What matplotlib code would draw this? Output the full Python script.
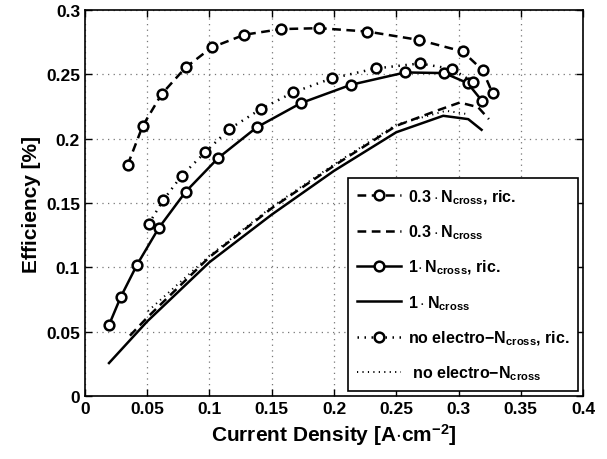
import matplotlib
matplotlib.use("Agg")
import matplotlib.pyplot as plt

plt.rcParams['font.family'] = 'Liberation Sans'
plt.rcParams['font.weight'] = 'bold'
plt.rcParams['mathtext.fontset'] = 'custom'
plt.rcParams['mathtext.rm'] = 'Liberation Sans:bold'
plt.rcParams['mathtext.it'] = 'Liberation Sans:bold'
plt.rcParams['mathtext.bf'] = 'Liberation Sans:bold'

# 0.3 * Ncross, with recirculation
x_03_ric = [0.0343, 0.0463, 0.0616, 0.0809, 0.1017, 0.128, 0.1574, 0.1882,
            0.2267, 0.268, 0.3033, 0.3193, 0.3274]
y_03_ric = [0.1797, 0.2098, 0.2347, 0.2554, 0.2709, 0.2808, 0.2852, 0.2859,
            0.2833, 0.2768, 0.2678, 0.2533, 0.2352]

# 0.3 * Ncross
x_03 = [0.0361, 0.05, 0.1, 0.15, 0.2, 0.25, 0.2823, 0.301, 0.3157, 0.3244]
y_03 = [0.0469, 0.061, 0.108, 0.146, 0.179, 0.21, 0.2217, 0.2281, 0.2245, 0.2152]

# 1 * Ncross, with recirculation
x_1_ric = [0.0193, 0.0287, 0.0418, 0.0592, 0.0809, 0.107, 0.1379, 0.1735,
           0.2136, 0.2572, 0.2886, 0.3073, 0.3188]
y_1_ric = [0.0552, 0.0769, 0.102, 0.1305, 0.1588, 0.185, 0.2088, 0.2277,
           0.2419, 0.2515, 0.251, 0.2432, 0.2295]

# 1 * Ncross
x_1 = [0.0193, 0.05, 0.1, 0.15, 0.2, 0.25, 0.2877, 0.3078, 0.3185]
y_1 = [0.0256, 0.058, 0.104, 0.141, 0.175, 0.205, 0.2178, 0.2152, 0.2069]

# no electro-Ncross, with recirculation
x_ne_ric = [0.0511, 0.0629, 0.0776, 0.0964, 0.1159, 0.1411, 0.1673, 0.198,
            0.2334, 0.269, 0.295, 0.3113]
y_ne_ric = [0.1336, 0.1523, 0.1712, 0.1893, 0.2075, 0.223, 0.236, 0.2468,
            0.2546, 0.2585, 0.2541, 0.2442]

# no electro-Ncross
x_ne = [0.0506, 0.1, 0.15, 0.2, 0.25, 0.29, 0.3078]
y_ne = [0.066, 0.109, 0.147, 0.18, 0.211, 0.2217, 0.219]

xticks = [0, 0.05, 0.1, 0.15, 0.2, 0.25, 0.3, 0.35, 0.4]
xtick_labels = ['0', '0.05', '0.1', '0.15', '0.2', '0.25', '0.3', '0.35', '0.4']
yticks = [0, 0.05, 0.1, 0.15, 0.2, 0.25, 0.3]
ytick_labels = ['0', '0.05', '0.1', '0.15', '0.2', '0.25', '0.3']

fig = plt.figure(figsize=(6.07, 4.6), dpi=100)
ax = fig.add_axes([0.14, 0.137, 0.8205, 0.839])

mk = dict(marker='o', markersize=7, markerfacecolor='white',
          markeredgecolor='black', markeredgewidth=1.8)
dash = (0, (3.5, 2.2))
dot = (0, (0.6, 2.2))

ax.plot(x_03_ric, y_03_ric, color='black', lw=1.8, linestyle=dash,
        label=r'$0.3\cdot\mathrm{N}_{\mathrm{cross}}$, ric.', **mk)
ax.plot(x_03, y_03, color='black', lw=1.8, linestyle=dash,
        label=r'$0.3\cdot\mathrm{N}_{\mathrm{cross}}$')
ax.plot(x_1_ric, y_1_ric, color='black', lw=1.8, linestyle='-',
        label=r'$1\!\cdot\mathrm{N}_{\mathrm{cross}}$, ric.', **mk)
ax.plot(x_1, y_1, color='black', lw=1.8, linestyle='-',
        label=r'$1\cdot\mathrm{N}_{\mathrm{cross}}$')
ax.plot(x_ne_ric, y_ne_ric, color='black', lw=1.8, linestyle=dot,
        label=r'no electro$-\mathrm{N}_{\mathrm{cross}}$, ric.', **mk)
ax.plot(x_ne, y_ne, color='black', lw=1.4, linestyle=dot,
        label=r' no electro$-\mathrm{N}_{\mathrm{cross}}$')

ax.set_xlim(0, 0.4)
ax.set_ylim(0, 0.3)
ax.set_xticks(xticks)
ax.set_xticklabels(xtick_labels)
ax.set_yticks(yticks)
ax.set_yticklabels(ytick_labels)
ax.tick_params(direction='in', top=True, right=True, labelsize=12.5, width=1, length=5)
ax.grid(True, color='#777777', linestyle=(0, (1, 3.5)), linewidth=0.9)
for s in ax.spines.values():
    s.set_linewidth(1.2)

ax.set_xlabel(r'Current Density [A$\cdot$cm$^{-2}$]', fontsize=15, fontweight='bold')
ax.set_ylabel('Efficiency [%]', fontsize=15, fontweight='bold')

leg = ax.legend(loc='lower right', fontsize=11.5, fancybox=False, framealpha=1,
                edgecolor='black', handlelength=2.8, handletextpad=0.4,
                borderaxespad=0.3, labelspacing=1.05, borderpad=0.55)
leg.get_frame().set_linewidth(1.2)

fig.savefig('out.png', dpi=100)
